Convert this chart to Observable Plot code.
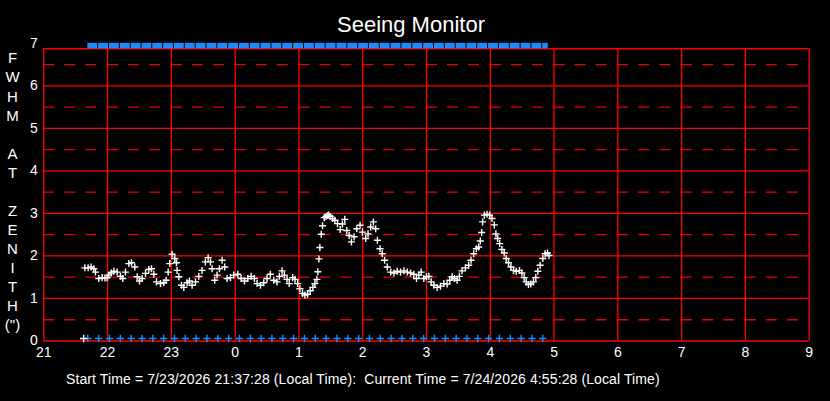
<!DOCTYPE html>
<html>
<head>
<meta charset="utf-8">
<script src="https://cdn.jsdelivr.net/npm/d3@7"></script>
<script src="https://cdn.jsdelivr.net/npm/@observablehq/plot@0.6"></script>
<style>
  html, body { margin: 0; padding: 0; background: #000; }
  body { width: 830px; height: 401px; overflow: hidden; font-family: "Liberation Sans", Arial, sans-serif; color: #fff; }
  #title { height: 30px; line-height: 30px; font-size: 22px; text-align: center; width: 822px; position: relative; top: 10px; }
  #chart { height: 340px; }
  #caption { height: 31px; line-height: 18px; font-size: 14px; letter-spacing: 0.11px; padding-left: 66px; white-space: pre; }
</style>
</head>
<body>
<div id="title">Seeing Monitor</div>
<div id="chart"></div>
<div id="caption">Start Time = 7/23/2026 21:37:28 (Local Time):  Current Time = 7/24/2026 4:55:28 (Local Time)</div>
<script>
// ---- data (minutes after 21:00 on 7/23) ----
const minutes = [38.6,41.7,44.5,47.0,48.6,51.7,54.9,57.5,59.6,61.2,63.5,65.9,69.0,72.1,74.3,76.8,80.0,82.5,85.6,87.8,90.0,92.5,95.7,98.8,101.3,103.5,106.0,109.8,112.9,115.1,117.0,118.5,120.7,123.2,124.8,125.4,127.0,129.5,131.7,134.8,137.0,139.5,142.7,145.8,148.9,152.0,154.6,156.8,158.3,160.8,163.0,165.2,167.7,170.2,172.4,175.6,178.7,
182.5,185.6,188.8,191.9,195.0,198.1,200.6,203.8,206.9,210.0,213.1,216.3,219.4,221.6,224.1,226.3,228.8,230.9,234.1,236.3,238.8,240.9,243.4,245.6,248.1,250.6,253.1,255.0,256.9,257.8,258.8,259.7,261.0,262.2,263.8,265.5,266.9,268.0,269.4,271.6,273.8,276.3,278.8,280.9,283.1,285.0,287.2,289.4,291.9,294.4,297.5,299.7,302.8,305.0,307.5,310.0,312.2,313.8,316.3,318.4,320.6,323.1,
326.3,329.4,332.5,335.6,338.8,341.9,345.0,348.1,350.6,352.8,355.0,357.5,360.0,362.2,364.4,366.9,370.0,373.1,376.3,379.4,381.9,384.1,386.3,388.8,390.9,393.4,396.6,399.7,401.9,404.4,406.9,409.1,410.6,411.9,412.8,414.4,416.9,419.4,421.6,423.8,425.3,426.9,428.8,430.9,433.1,435.0,437.2,439.4,441.9,444.4,447.5,449.7,451.9,453.8,455.9,458.1,460.6,462.8,464.7,466.9,469.4,471.6,473.8,475.3];
const fwhm = [1.72,1.72,1.74,1.70,1.62,1.47,1.49,1.48,1.49,1.55,1.60,1.64,1.62,1.52,1.47,1.62,1.82,1.84,1.74,1.51,1.41,1.47,1.59,1.68,1.70,1.57,1.39,1.35,1.37,1.43,1.62,1.82,2.04,1.94,1.84,1.66,1.51,1.31,1.26,1.37,1.41,1.31,1.39,1.52,1.66,1.86,1.96,1.86,1.70,1.43,1.55,1.70,1.90,1.74,1.47,1.49,1.55,
1.57,1.47,1.41,1.47,1.52,1.47,1.35,1.31,1.37,1.47,1.57,1.43,1.39,1.52,1.65,1.55,1.45,1.35,1.49,1.45,1.35,1.23,1.12,1.08,1.10,1.18,1.26,1.35,1.45,1.63,1.93,2.20,2.51,2.71,2.90,2.93,2.95,2.96,2.93,2.88,2.84,2.76,2.62,2.75,2.86,2.60,2.48,2.33,2.45,2.64,2.72,2.56,2.41,2.52,2.68,2.80,2.64,2.37,2.17,2.05,1.90,1.74,
1.62,1.60,1.64,1.62,1.65,1.62,1.60,1.57,1.47,1.55,1.62,1.47,1.51,1.52,1.39,1.31,1.26,1.29,1.35,1.34,1.43,1.51,1.47,1.43,1.52,1.65,1.72,1.78,1.90,2.05,2.17,2.21,2.35,2.55,2.80,2.96,2.98,2.96,2.88,2.73,2.52,2.41,2.29,2.15,2.07,1.94,1.84,1.74,1.66,1.64,1.66,1.60,1.49,1.39,1.33,1.34,1.39,1.49,1.64,1.78,1.94,2.05,2.07,2.01];
// status markers (minutes after 21:00)
const statusMinutes = [41.4,51.6,61.8,72.0,82.2,92.4,102.5,112.7,122.9,133.1,143.3,153.5,163.7,173.9,184.1,194.3,204.4,214.6,224.8,235.0,245.2,255.4,265.6,275.8,286.0,296.2,306.3,316.5,326.7,336.9,347.1,357.3,367.5,377.7,387.9,398.1,408.2,418.4,428.6,438.8,449.0,459.2,469.4];
const startMinute = 37.5;
const currentMinute = 475.5;
// axes
const yTicks = [0,1,2,3,4,5,6,7];
const halfLines = [0.5,1.5,2.5,3.5,4.5,5.5,6.5];
const xTicks = [21,22,23,24,25,26,27,28,29,30,31,32,33];
const frameTop = 6.87;
const yTitleLetters = ["F","W","H","M","","A","T","","Z","E","N","I","T","H","(\")"];

// ---- build tables ----
const toHour = m => 21 + m / 60;
const points = minutes.map((m, i) => ({x: toHour(m), y: fwhm[i]}));
const status = statusMinutes.map(m => ({x: toHour(m)}));
const statusBars = statusMinutes.map((m, i) => ({
  x1: toHour(m),
  x2: toHour(i + 1 < statusMinutes.length ? statusMinutes[i + 1] : currentMinute)
}));
const hourStarts = xTicks.slice(0, -1);
const dashes = d3.cross(halfLines, hourStarts).map(([y, h]) => ({y, h}));
const yTitleText = yTitleLetters.map(s => s || "\u00a0").join("\n");

const RED = "#ff0000";
const DASH = "#e60000";
const BLUE = "#1a8cff";

const chart = Plot.plot({
  width: 830,
  height: 340,
  marginTop: 12.8,
  marginBottom: 29.5,
  marginLeft: 43.3,
  marginRight: 21.3,
  style: {background: "transparent", color: "#fff", fontFamily: "'Liberation Sans', Arial, sans-serif", fontSize: "14px"},
  x: {domain: [21, 33]},
  y: {domain: [0, 7]},
  marks: [
    Plot.ruleY(dashes, {y: "y", x1: "h", x2: d => d.h + 1, stroke: DASH, strokeWidth: 1.3, strokeDasharray: "11,10"}),
    Plot.ruleY([1,2,3,4,5,6], {stroke: RED, strokeWidth: 1.3}),
    Plot.ruleX(xTicks, {y1: 0, y2: frameTop, stroke: RED, strokeWidth: 1.3}),
    Plot.ruleY([0, frameTop], {stroke: RED, strokeWidth: 1.5}),
    Plot.rect(statusBars, {x1: "x1", x2: "x2", y1: frameTop, y2: 7, fill: BLUE, insetRight: 1}),
    Plot.dot(status, {x: "x", y: 0, symbol: "plus", r: 2.5, stroke: BLUE, strokeWidth: 1.4, dy: -2.5}),
    Plot.dot([{x: toHour(startMinute)}], {x: "x", y: 0, symbol: "plus", r: 2.5, stroke: "#fff", strokeWidth: 1.4, dy: -2.5}),
    Plot.dot(points, {x: "x", y: "y", symbol: "plus", r: 2.4, stroke: "#fff", strokeWidth: 1.4}),
    Plot.axisY({ticks: yTicks, tickFormat: d => String(d), tickSize: 0, tickPadding: 6, label: null, fontSize: 14, fill: "#fff"}),
    Plot.axisX({ticks: xTicks, tickFormat: d => String(d % 24), tickSize: 0, tickPadding: 6, label: null, fontSize: 14, fill: "#fff"}),
    Plot.text([yTitleText], {text: d => d, frameAnchor: "left", dx: -31.3, dy: -1.5, textAnchor: "middle", lineHeight: 1.27, fontSize: 15, fill: "#fff"})
  ]
});
document.getElementById("chart").appendChild(chart);
</script>
</body>
</html>
